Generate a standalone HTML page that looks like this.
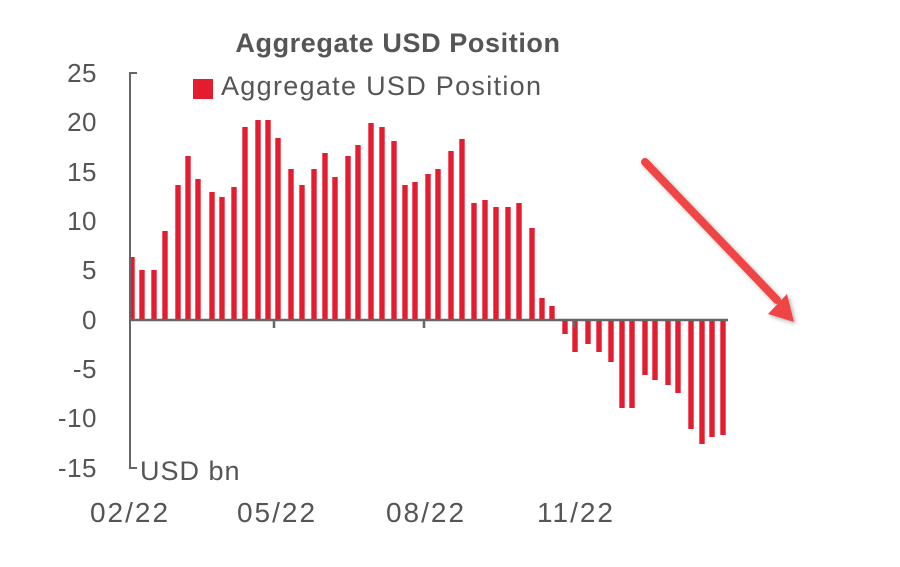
<!DOCTYPE html>
<html><head><meta charset="utf-8"><style>
html,body{margin:0;padding:0;background:#fff;}
svg{display:block;}
text{font-family:"Liberation Sans","DejaVu Sans",sans-serif;fill:#555;}
</style></head><body>
<svg width="900" height="567" viewBox="0 0 900 567" xmlns="http://www.w3.org/2000/svg">
<defs><filter id="sh" x="-20%" y="-20%" width="140%" height="140%"><feDropShadow dx="2" dy="2" stdDeviation="2" flood-color="#000" flood-opacity="0.3"/></filter></defs>
<text x="398" y="52" text-anchor="middle" font-size="27" font-weight="bold" fill="#555" letter-spacing="0.6">Aggregate USD Position</text>
<rect x="193" y="79" width="20" height="20" fill="#e31c2f"/>
<text x="221" y="95" font-size="27" letter-spacing="1.3">Aggregate USD Position</text>
<g font-size="26" text-anchor="end" letter-spacing="0.5">
<text x="97" y="82">25</text><text x="97" y="131">20</text><text x="97" y="181">15</text>
<text x="97" y="230">10</text><text x="97" y="279">5</text><text x="97" y="329">0</text>
<text x="97" y="378">-5</text><text x="97" y="427">-10</text><text x="97" y="477">-15</text>
</g>
<text x="140" y="480" font-size="27" letter-spacing="1">USD bn</text>
<g font-size="28" text-anchor="middle" letter-spacing="2">
<text x="130" y="522">02/22</text><text x="277" y="522">05/22</text><text x="426" y="522">08/22</text><text x="576" y="522">11/22</text>
</g>
<g fill="#e31c2f">
<rect x="129.3" y="257" width="5.4" height="63"/>
<rect x="139.3" y="270" width="5.4" height="50"/>
<rect x="151.3" y="270" width="5.4" height="50"/>
<rect x="162.3" y="231" width="5.4" height="89"/>
<rect x="175.3" y="185" width="5.4" height="135"/>
<rect x="185.3" y="156" width="5.4" height="164"/>
<rect x="195.3" y="179" width="5.4" height="141"/>
<rect x="209.3" y="192" width="5.4" height="128"/>
<rect x="219.3" y="197" width="5.4" height="123"/>
<rect x="231.3" y="187" width="5.4" height="133"/>
<rect x="242.3" y="127" width="5.4" height="193"/>
<rect x="255.3" y="120" width="5.4" height="200"/>
<rect x="265.3" y="120" width="5.4" height="200"/>
<rect x="275.3" y="138" width="5.4" height="182"/>
<rect x="288.3" y="169" width="5.4" height="151"/>
<rect x="299.3" y="185" width="5.4" height="135"/>
<rect x="311.3" y="169" width="5.4" height="151"/>
<rect x="322.3" y="153" width="5.4" height="167"/>
<rect x="332.3" y="177" width="5.4" height="143"/>
<rect x="345.3" y="156" width="5.4" height="164"/>
<rect x="355.3" y="145" width="5.4" height="175"/>
<rect x="368.3" y="123" width="5.4" height="197"/>
<rect x="379.3" y="127" width="5.4" height="193"/>
<rect x="391.3" y="141" width="5.4" height="179"/>
<rect x="402.3" y="185" width="5.4" height="135"/>
<rect x="412.3" y="182" width="5.4" height="138"/>
<rect x="425.3" y="174" width="5.4" height="146"/>
<rect x="435.3" y="169" width="5.4" height="151"/>
<rect x="448.3" y="151" width="5.4" height="169"/>
<rect x="459.3" y="139" width="5.4" height="181"/>
<rect x="471.3" y="203" width="5.4" height="117"/>
<rect x="482.3" y="200" width="5.4" height="120"/>
<rect x="493.3" y="207" width="5.4" height="113"/>
<rect x="505.3" y="207" width="5.4" height="113"/>
<rect x="516.3" y="203" width="5.4" height="117"/>
<rect x="529.3" y="228" width="5.4" height="92"/>
<rect x="539.3" y="298" width="5.4" height="22"/>
<rect x="549.3" y="306" width="5.4" height="14"/>
<rect x="562.3" y="320" width="5.4" height="14"/>
<rect x="572.3" y="320" width="5.4" height="32"/>
<rect x="585.3" y="320" width="5.4" height="24"/>
<rect x="596.3" y="320" width="5.4" height="32"/>
<rect x="608.3" y="320" width="5.4" height="42"/>
<rect x="619.3" y="320" width="5.4" height="88"/>
<rect x="629.3" y="320" width="5.4" height="88"/>
<rect x="642.3" y="320" width="5.4" height="55"/>
<rect x="652.3" y="320" width="5.4" height="60"/>
<rect x="665.3" y="320" width="5.4" height="65"/>
<rect x="675.3" y="320" width="5.4" height="73"/>
<rect x="688.3" y="320" width="5.4" height="109"/>
<rect x="699.3" y="320" width="5.4" height="124"/>
<rect x="709.3" y="320" width="5.4" height="117"/>
<rect x="720.3" y="320" width="5.4" height="115"/>
</g>
<path d="M137 73H130V468H137" fill="none" stroke="#666" stroke-width="2"/>
<path d="M130 320H728M274 320V328M424 320V328M574 320V328" fill="none" stroke="#666" stroke-width="2.5"/>
<g filter="url(#sh)">
<line x1="645" y1="162" x2="777" y2="300" stroke="#ef4444" stroke-width="8" stroke-linecap="round"/>
<polygon points="794,322 768,314 787,294" fill="#ef4444"/>
</g>
</svg>
</body></html>
